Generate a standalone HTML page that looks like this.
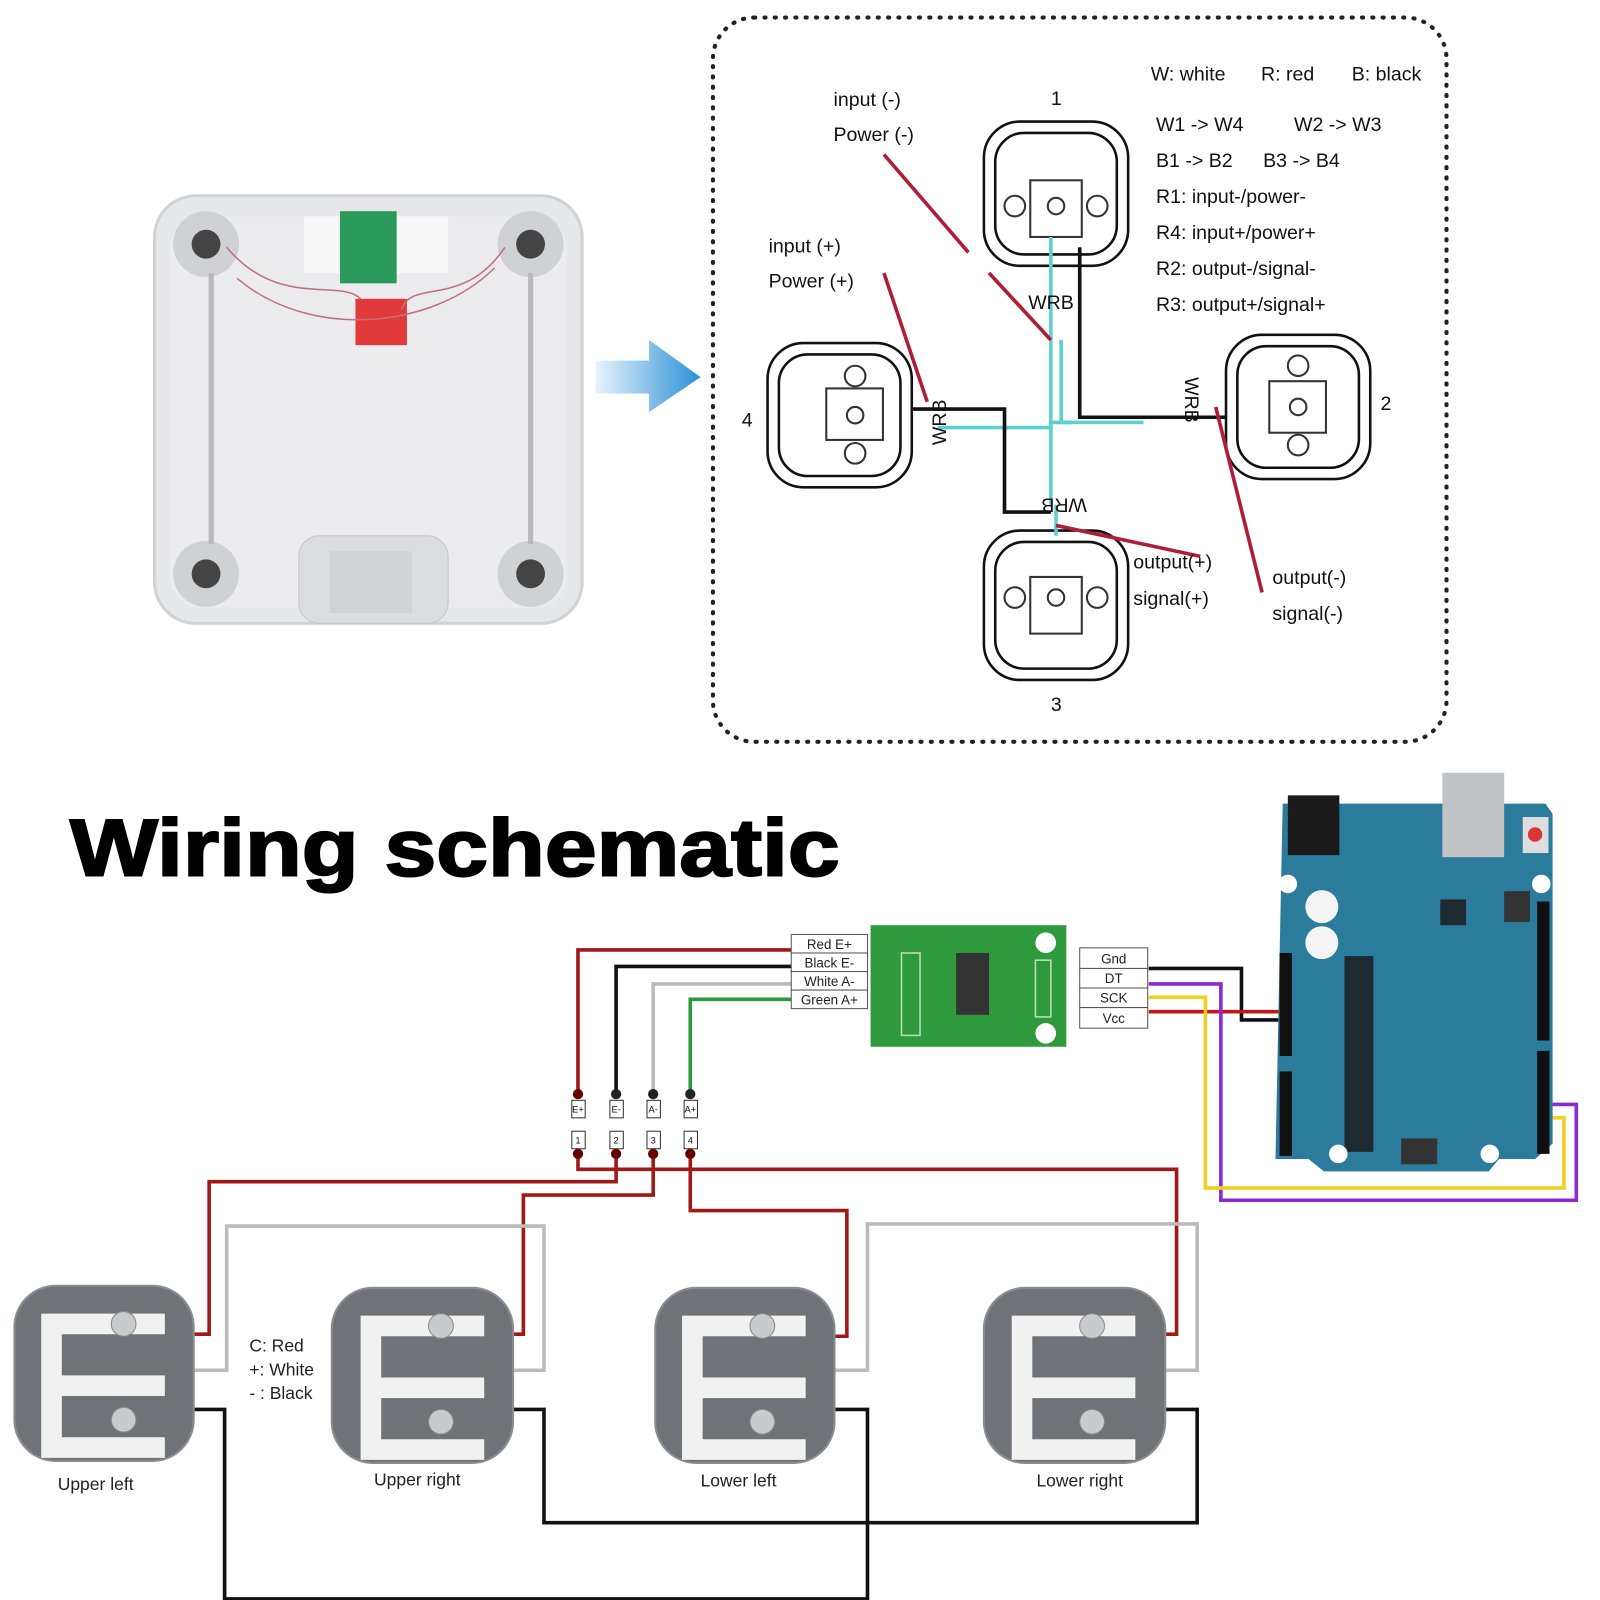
<!DOCTYPE html>
<html><head><meta charset="utf-8"><style>html,body{margin:0;padding:0;background:#fff}svg{display:block}</style></head>
<body>
<svg width="1600" height="1600" viewBox="0 0 1553 1553" xmlns="http://www.w3.org/2000/svg" font-family="Liberation Sans, sans-serif">
<rect width="1553" height="1553" fill="#fff"/>
<rect x="150" y="190" width="415" height="415" rx="40" fill="#e6e7ea" stroke="#d0d2d6" stroke-width="3"/>
<rect x="165" y="210" width="385" height="380" rx="30" fill="#ececee"/>
<g fill="#cfd1d5"><circle cx="200" cy="237" r="32"/><circle cx="515" cy="237" r="32"/><circle cx="200" cy="557" r="32"/><circle cx="515" cy="557" r="32"/></g>
<g fill="#444"><circle cx="200" cy="237" r="14"/><circle cx="515" cy="237" r="14"/><circle cx="200" cy="557" r="14"/><circle cx="515" cy="557" r="14"/></g>
<g stroke="#b8b9bc" stroke-width="5"><line x1="205" y1="265" x2="205" y2="528"/><line x1="515" y1="265" x2="515" y2="528"/></g>
<rect x="290" y="520" width="145" height="85" rx="20" fill="#dcdde0" stroke="#c4c6ca"/>
<rect x="320" y="535" width="80" height="60" fill="#d2d3d6"/>
<rect x="295" y="210" width="140" height="55" fill="#f7f7f8"/>
<rect x="330" y="205" width="55" height="70" fill="#2a9a5a"/>
<rect x="345" y="290" width="50" height="45" fill="#e23a3a"/>
<path d="M220 240 C270 300 330 270 350 290 M490 240 C450 300 400 270 390 300 M230 270 C300 330 420 320 480 260" stroke="#c07080" stroke-width="1.5" fill="none"/>
<defs><linearGradient id="ag" x1="0" x2="1"><stop offset="0" stop-color="#e8f4fc"/><stop offset="1" stop-color="#2a90d8"/></linearGradient></defs>
<path d="M578 350 H630 V330 L680 366 L630 400 V382 H578 Z" fill="url(#ag)"/>
<rect x="692" y="17" width="712" height="703" rx="40" fill="none" stroke="#222" stroke-width="4" stroke-dasharray="1 9" stroke-linecap="round"/>
<g fill="none" stroke="#111" stroke-width="2.5">
<rect x="955" y="118" width="140" height="140" rx="35"/><rect x="966" y="129" width="118" height="118" rx="28"/>
<rect x="1190" y="325" width="140" height="140" rx="35"/><rect x="1201" y="336" width="118" height="118" rx="28"/>
<rect x="955" y="515" width="140" height="145" rx="35"/><rect x="966" y="526" width="118" height="123" rx="28"/>
<rect x="745" y="333" width="140" height="140" rx="35"/><rect x="756" y="344" width="118" height="118" rx="28"/>
</g>
<g fill="none" stroke="#333" stroke-width="2">
<rect x="1000" y="175" width="50" height="55"/><circle cx="985" cy="200" r="10"/><circle cx="1025" cy="200" r="8"/><circle cx="1065" cy="200" r="10"/>
<rect x="1232" y="370" width="55" height="50"/><circle cx="1260" cy="355" r="10"/><circle cx="1260" cy="395" r="8"/><circle cx="1260" cy="432" r="10"/>
<rect x="1000" y="560" width="50" height="55"/><circle cx="985" cy="580" r="10"/><circle cx="1025" cy="580" r="8"/><circle cx="1065" cy="580" r="10"/>
<rect x="802" y="377" width="55" height="50"/><circle cx="830" cy="365" r="10"/><circle cx="830" cy="403" r="8"/><circle cx="830" cy="440" r="10"/>
</g>
<g fill="none" stroke-width="3.5">
<path d="M1020 230 V330 M1030 330 V410 H1110 M910 415 H1020 V330" stroke="#5fd0d0"/>
<path d="M1040 410 H1020 V490 M1025 490 V520" stroke="#5fd0d0"/>
<path d="M1048 240 V405 H1190 M885 397 H975 V497 H1020" stroke="#111"/>
<path d="M858 150 L940 245 M960 265 L1020 330 M858 265 L900 390 M1025 510 L1165 540 M1180 395 L1225 575" stroke="#b01e35"/>
</g>
<g font-size="19" fill="#111">
<text x="809" y="103">input (-)</text><text x="809" y="137">Power (-)</text>
<text x="746" y="245">input (+)</text><text x="746" y="279">Power (+)</text>
<text x="1020" y="102">1</text><text x="1340" y="398">2</text><text x="1020" y="690">3</text><text x="720" y="414">4</text>
<text x="998" y="300">WRB</text>
<text x="1100" y="552">output(+)</text><text x="1100" y="587">signal(+)</text>
<text x="1235" y="567">output(-)</text><text x="1235" y="602">signal(-)</text>
<text x="1117" y="78">W: white</text><text x="1224" y="78">R: red</text><text x="1312" y="78">B: black</text>
<text x="1122" y="127">W1 -&gt; W4</text><text x="1256" y="127">W2 -&gt; W3</text>
<text x="1122" y="162">B1 -&gt; B2</text><text x="1226" y="162">B3 -&gt; B4</text>
<text x="1122" y="197">R1: input-/power-</text>
<text x="1122" y="232">R4: input+/power+</text>
<text x="1122" y="267">R2: output-/signal-</text>
<text x="1122" y="302">R3: output+/signal+</text>
</g>
<text font-size="19" fill="#111" transform="translate(918,432) rotate(-90)">WRB</text>
<text font-size="19" fill="#111" transform="translate(1150,366) rotate(90)">WRB</text>
<text font-size="19" fill="#111" transform="translate(1055,484) rotate(180)">WRB</text>
<text x="68" y="850" font-size="78" font-weight="bold" textLength="747" lengthAdjust="spacingAndGlyphs" fill="#000" stroke="#000" stroke-width="2">Wiring schematic</text>
<g fill="none" stroke-width="3.5">
<path d="M768 922 H561 V1060" stroke="#a01818"/>
<path d="M768 938 H598 V1060" stroke="#111"/>
<path d="M768 955 H634 V1060" stroke="#bbb"/>
<path d="M768 970 H670 V1060" stroke="#2a9a3a"/>
<path d="M561 1120 V1135 H1142 V1295 H1130" stroke="#a01818"/>
<path d="M598 1120 V1147 H203 V1295 H188" stroke="#a01818"/>
<path d="M634 1120 V1160 H508 V1295 H497" stroke="#a01818"/>
<path d="M670 1120 V1175 H822 V1297 H810" stroke="#a01818"/>
<path d="M188 1330 H220 V1190 H528 V1330 H497" stroke="#bbb"/>
<path d="M810 1330 H842 V1188 H1162 V1330 H1130" stroke="#bbb"/>
<path d="M188 1368 H218 V1552 H842 V1368 H810" stroke="#111"/>
<path d="M497 1368 H528 V1478 H1162 V1368 H1130" stroke="#111"/>
<path d="M1115 940 H1205 V990 H1245" stroke="#111"/>
<path d="M1115 982 H1245" stroke="#c01818"/>
<path d="M1115 955 H1185 V1165 H1530 V1072 H1500" stroke="#8a2ad0"/>
<path d="M1115 968 H1170 V1153 H1518 V1085 H1500" stroke="#f0d020"/>
</g>
<g font-size="9" fill="#111" text-anchor="middle">
<g stroke="#333" fill="#fff"><rect x="555" y="1068" width="13" height="17"/><rect x="555" y="1098" width="13" height="17"/><rect x="592" y="1068" width="13" height="17"/><rect x="592" y="1098" width="13" height="17"/><rect x="628" y="1068" width="13" height="17"/><rect x="628" y="1098" width="13" height="17"/><rect x="664" y="1068" width="13" height="17"/><rect x="664" y="1098" width="13" height="17"/></g>
<text x="561" y="1080">E+</text><text x="598" y="1080">E-</text><text x="634" y="1080">A-</text><text x="670" y="1080">A+</text>
<text x="561" y="1110">1</text><text x="598" y="1110">2</text><text x="634" y="1110">3</text><text x="670" y="1110">4</text>
</g>
<g fill="#600"><circle cx="561" cy="1062" r="5"/><circle cx="598" cy="1062" r="5" fill="#222"/><circle cx="634" cy="1062" r="5" fill="#222"/><circle cx="670" cy="1062" r="5" fill="#222"/><circle cx="561" cy="1120" r="5"/><circle cx="598" cy="1120" r="5"/><circle cx="634" cy="1120" r="5"/><circle cx="670" cy="1120" r="5"/></g>
<rect x="845" y="898" width="190" height="118" fill="#2f9a3c"/>
<rect x="875" y="925" width="18" height="80" fill="none" stroke="#b8e0b8" stroke-width="1.5"/>
<rect x="928" y="925" width="32" height="60" fill="#333"/>
<circle cx="1015" cy="915" r="10" fill="#fff"/><circle cx="1015" cy="1003" r="10" fill="#fff"/>
<rect x="1005" y="932" width="15" height="55" fill="none" stroke="#b8e0b8" stroke-width="1.5"/>
<g font-size="13" fill="#222" text-anchor="middle">
<g fill="#fff" stroke="#555"><rect x="768" y="907" width="74" height="18"/><rect x="768" y="925" width="74" height="18"/><rect x="768" y="943" width="74" height="18"/><rect x="768" y="961" width="74" height="18"/>
<rect x="1048" y="920" width="66" height="20"/><rect x="1048" y="940" width="66" height="19"/><rect x="1048" y="959" width="66" height="19"/><rect x="1048" y="978" width="66" height="20"/></g>
<text x="805" y="921">Red E+</text><text x="805" y="939">Black E-</text><text x="805" y="957">White A-</text><text x="805" y="975">Green A+</text>
<text x="1081" y="935">Gnd</text><text x="1081" y="954">DT</text><text x="1081" y="973">SCK</text><text x="1081" y="993">Vcc</text>
</g>
<path d="M1245 780 H1500 L1507 790 V1110 L1490 1125 H1455 L1445 1137 H1285 L1270 1125 H1238 Z" fill="#2b7b9c"/>
<rect x="1400" y="750" width="60" height="82" fill="#bfc3c6"/>
<rect x="1250" y="772" width="50" height="58" fill="#1a1a1a"/>
<rect x="1305" y="928" width="28" height="190" fill="#1e2a30"/>
<rect x="1398" y="873" width="25" height="25" fill="#1e2a30"/>
<circle cx="1283" cy="880" r="16" fill="#f4f4f4"/><circle cx="1283" cy="915" r="16" fill="#f4f4f4"/>
<rect x="1478" y="793" width="25" height="35" fill="#ddd"/><circle cx="1490" cy="810" r="7" fill="#d83838"/>
<circle cx="1250" cy="858" r="9" fill="#fff"/><circle cx="1496" cy="858" r="9" fill="#fff"/>
<circle cx="1299" cy="1120" r="9" fill="#fff"/><circle cx="1446" cy="1120" r="9" fill="#fff"/>
<rect x="1242" y="925" width="12" height="100" fill="#111"/><rect x="1242" y="1040" width="12" height="82" fill="#111"/>
<rect x="1492" y="875" width="12" height="135" fill="#111"/><rect x="1492" y="1020" width="12" height="100" fill="#111"/>
<rect x="1460" y="865" width="25" height="30" fill="#333"/>
<rect x="1360" y="1105" width="35" height="25" fill="#333"/>
<g fill="#6f7377" stroke="#8a8d90" stroke-width="2">
<rect x="14" y="1248" width="174" height="170" rx="40"/><rect x="322" y="1250" width="176" height="170" rx="40"/><rect x="636" y="1250" width="174" height="170" rx="40"/><rect x="955" y="1250" width="176" height="170" rx="40"/>
</g>
<g fill="#fff" fill-opacity="0.9">
<path d="M40 1275 h120 v20 h-100 v40 h100 v20 h-100 v40 h100 v20 h-120 z"/>
<path d="M350 1277 h120 v20 h-100 v40 h100 v20 h-100 v40 h100 v20 h-120 z"/>
<path d="M662 1277 h120 v20 h-100 v40 h100 v20 h-100 v40 h100 v20 h-120 z"/>
<path d="M982 1277 h120 v20 h-100 v40 h100 v20 h-100 v40 h100 v20 h-120 z"/>
</g>
<g fill="#c8cacc" stroke="#888"><circle cx="120" cy="1285" r="12"/><circle cx="120" cy="1378" r="12"/><circle cx="428" cy="1287" r="12"/><circle cx="428" cy="1380" r="12"/><circle cx="740" cy="1287" r="12"/><circle cx="740" cy="1380" r="12"/><circle cx="1060" cy="1287" r="12"/><circle cx="1060" cy="1380" r="12"/></g>
<g font-size="17" fill="#222">
<text x="56" y="1446">Upper left</text><text x="363" y="1442">Upper right</text><text x="680" y="1443">Lower left</text><text x="1006" y="1443">Lower right</text>
<text x="242" y="1312">C: Red</text><text x="242" y="1335">+: White</text><text x="242" y="1358">- : Black</text>
</g>
</svg>
</body></html>
